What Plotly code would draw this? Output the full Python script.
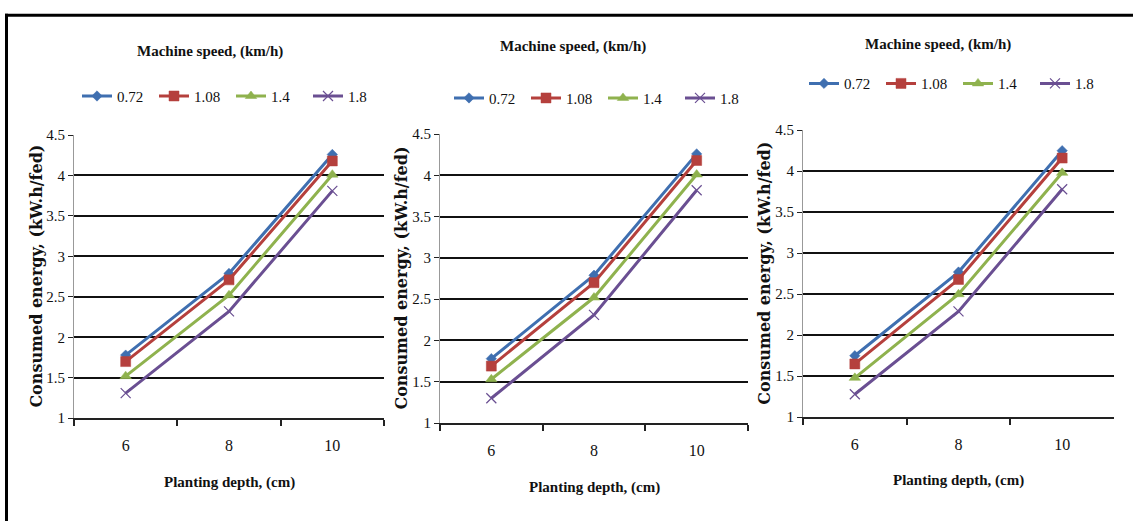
import plotly.graph_objects as go

depths = ["6", "8", "10"]
speeds = ["0.72", "1.08", "1.4", "1.8"]

# consumed energy (kW.h/fed) per panel, per machine speed
p1_072 = [1.78, 2.79, 4.26]
p1_108 = [1.70, 2.71, 4.18]
p1_140 = [1.52, 2.52, 4.01]
p1_180 = [1.31, 2.32, 3.81]

p2_072 = [1.78, 2.79, 4.26]
p2_108 = [1.69, 2.70, 4.18]
p2_140 = [1.53, 2.52, 4.01]
p2_180 = [1.30, 2.31, 3.82]

p3_072 = [1.75, 2.77, 4.25]
p3_108 = [1.65, 2.68, 4.16]
p3_140 = [1.48, 2.50, 3.98]
p3_180 = [1.28, 2.29, 3.78]

y_ticks = [1, 1.5, 2, 2.5, 3, 3.5, 4, 4.5]
y_ticklabels = ["1", "1.5", "2", "2.5", "3", "3.5", "4", "4.5"]

panels = [[p1_072, p1_108, p1_140, p1_180],
          [p2_072, p2_108, p2_140, p2_180],
          [p3_072, p3_108, p3_140, p3_180]]

colors = ["#3f6fb0", "#b5403d", "#8fb24e", "#6a4f92"]
symbols = ["diamond", "square", "triangle-up", "x-thin"]
msizes = [8, 10, 10, 10]

W, H = 1133, 529
# pixel boxes of plot areas: (x0, x1, ytop, ybottom)
boxes = [(74, 384, 131, 423), (440, 748, 130, 428), (803, 1114, 126, 422)]
title_pos = [(210, 45), (573, 40), (938, 38)]
legend_pos = [(77, 91), (449, 93), (804, 78)]
ytitle_x = [37, 402, 765]
xtitle_y = [489, 494, 487]

FONT = "Liberation Serif"

fig = go.Figure()
for p, series in enumerate(panels):
    ax = "" if p == 0 else str(p + 1)
    lg = "legend" if p == 0 else "legend" + str(p + 1)
    for i, vals in enumerate(series):
        mk = dict(symbol=symbols[i], size=msizes[i], color=colors[i])
        if symbols[i] == "x-thin":
            mk["line"] = dict(color=colors[i], width=1.2)
        else:
            mk["line"] = dict(color=colors[i], width=0.5)
        fig.add_trace(go.Scatter(
            x=depths, y=vals, name=speeds[i], mode="lines+markers",
            line=dict(color=colors[i], width=3), marker=mk,
            xaxis="x" + ax, yaxis="y" + ax, legend=lg))

layout = dict(width=W, height=H, margin=dict(l=0, r=0, t=0, b=0),
              paper_bgcolor="white", plot_bgcolor="white", showlegend=True,
              font=dict(family=FONT, color="#111111"))
annotations = []
for p, (x0, x1, yt, yb) in enumerate(boxes):
    ax = "" if p == 0 else str(p + 1)
    layout["xaxis" + ax] = dict(
        domain=[x0 / W, x1 / W], anchor="y" + ax, type="category",
        range=[-0.5, 2.5], tickson="boundaries", ticks="outside", ticklen=6,
        tickcolor="#222222", tickwidth=1.5, showline=True, linecolor="#222222",
        linewidth=2, showgrid=False, ticklabelstandoff=12,
        tickfont=dict(family=FONT, size=16, color="#111111"), fixedrange=True)
    layout["yaxis" + ax] = dict(
        domain=[1 - yb / H, 1 - yt / H], anchor="x" + ax, range=[1, 4.5],
        tickvals=y_ticks, ticktext=y_ticklabels, ticks="outside", ticklen=5,
        tickcolor="#222222", showline=True, linecolor="#999999", linewidth=1,
        showgrid=True, gridcolor="#111111", gridwidth=2, zeroline=False,
        tickfont=dict(family=FONT, size=15, color="#111111"), fixedrange=True)
    lg = "legend" if p == 0 else "legend" + str(p + 1)
    lx, ly = legend_pos[p]
    layout[lg] = dict(orientation="h", x=lx / W, y=1 - ly / H, xanchor="left",
                      yanchor="middle", bgcolor="rgba(0,0,0,0)",
                      font=dict(family=FONT, size=15, color="#111111"),
                      entrywidth=32, entrywidthmode="pixels", itemwidth=30,
                      tracegroupgap=0)
    tx, ty = title_pos[p]
    annotations.append(dict(text="<b>Machine speed, (km/h)</b>", x=tx / W,
                            y=1 - ty / H, xref="paper", yref="paper",
                            showarrow=False, xanchor="center", yanchor="middle",
                            font=dict(family=FONT, size=15, color="#111111")))
    annotations.append(dict(text="<b>Planting depth, (cm)</b>",
                            x=(x0 + x1) / 2 / W, y=1 - xtitle_y[p] / H,
                            xref="paper", yref="paper", showarrow=False,
                            xanchor="center", yanchor="middle",
                            font=dict(family=FONT, size=15, color="#111111")))
    annotations.append(dict(text="<b>Consumed energy, (kW.h/fed)</b>",
                            x=ytitle_x[p] / W, y=1 - (yt + yb) / 2 / H,
                            xref="paper", yref="paper", showarrow=False,
                            textangle=-90, xanchor="center", yanchor="middle",
                            font=dict(family="DejaVu Serif", size=16,
                                      color="#111111")))
layout["annotations"] = annotations
layout["shapes"] = [
    dict(type="line", xref="paper", yref="paper", x0=6.5 / W, x1=6.5 / W,
         y0=0, y1=1 - 6 / H, line=dict(color="black", width=3)),
    dict(type="line", xref="paper", yref="paper", x0=5 / W, x1=1,
         y0=1 - 7.5 / H, y1=1 - 7.5 / H, line=dict(color="black", width=3)),
]
fig.update_layout(**layout)
fig.write_html("out.html")
